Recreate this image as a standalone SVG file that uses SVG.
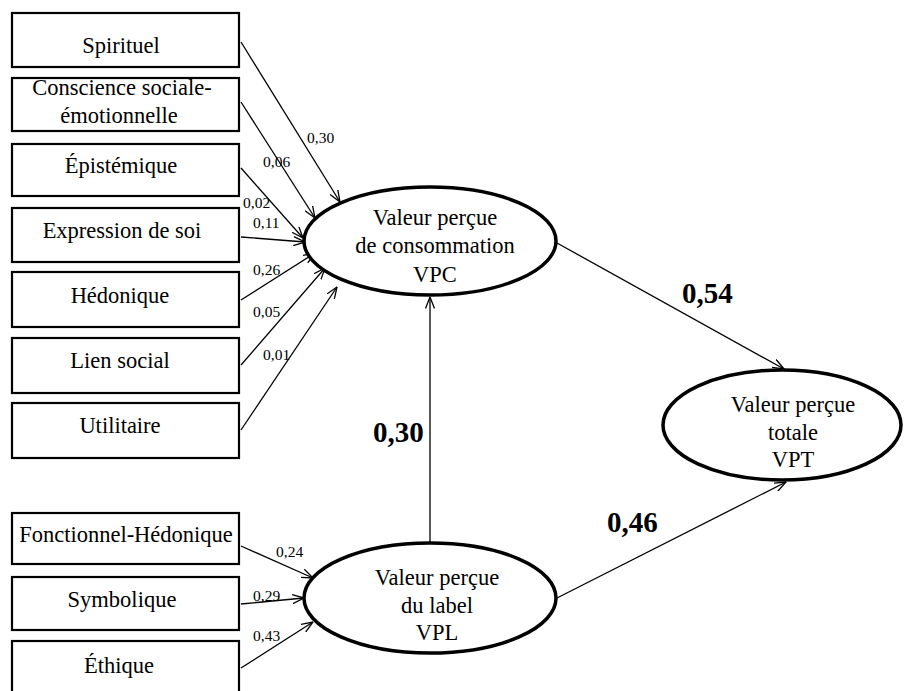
<svg xmlns="http://www.w3.org/2000/svg" width="904" height="691" viewBox="0 0 904 691" font-family="Liberation Serif, DejaVu Serif, serif">
  <style>
    .box { fill: #fff; stroke: #000; stroke-width: 2.2; }
    .ell { fill: #fff; stroke: #000; stroke-width: 3.5; }
    text { font-family: 'Liberation Serif', 'DejaVu Serif', serif; fill: #000; }
    .lbl { font-size: 22.5px; text-anchor: middle; }
    .coef { font-size: 15.5px; }
    .big { font-size: 29px; font-weight: bold; }
    .edge { fill: none; stroke: #000; stroke-width: 1.3; marker-end: url(#arr); }
  </style>
  <defs>
    <marker id="arr" viewBox="0 0 12 10" refX="11.5" refY="5" markerWidth="12" markerHeight="10" markerUnits="userSpaceOnUse" orient="auto">
      <path d="M0,0.5 L11.5,5 L0,9.5" fill="none" stroke="#000" stroke-width="1.3"/>
    </marker>
  </defs>
  <rect width="904" height="691" fill="#fff"/>

  <!-- path connectors -->
  <g id="connectors">
    <line class="edge" x1="241" y1="42" x2="340" y2="202"/>
    <line class="edge" x1="241" y1="102" x2="315" y2="218"/>
    <line class="edge" x1="241" y1="168" x2="303" y2="238"/>
    <line class="edge" x1="241" y1="237" x2="305" y2="242"/>
    <line class="edge" x1="241" y1="300" x2="315" y2="253"/>
    <line class="edge" x1="241" y1="365" x2="325" y2="268"/>
    <line class="edge" x1="241" y1="430" x2="337" y2="287"/>
    <line class="edge" x1="241" y1="546" x2="313" y2="578"/>
    <line class="edge" x1="241" y1="604" x2="304" y2="598"/>
    <line class="edge" x1="241" y1="668" x2="313" y2="622"/>
    <line class="edge" x1="430" y1="543" x2="430" y2="297"/>
    <line class="edge" x1="557" y1="243" x2="784" y2="369"/>
    <line class="edge" x1="557" y1="598" x2="786" y2="482"/>
  </g>

  <!-- coefficients -->
  <g id="coefficients">
    <text class="coef" x="307" y="143">0,30</text>
    <text class="coef" x="263" y="167">0,06</text>
    <text class="coef" x="243" y="208">0,02</text>
    <text class="coef" x="253" y="228">0,11</text>
    <text class="coef" x="253" y="275">0,26</text>
    <text class="coef" x="253" y="317">0,05</text>
    <text class="coef" x="263" y="360">0,01</text>
    <text class="coef" x="276" y="557">0,24</text>
    <text class="coef" x="253" y="601">0,29</text>
    <text class="coef" x="253" y="641">0,43</text>
    <text class="big" x="373" y="442">0,30</text>
    <text class="big" x="682" y="303">0,54</text>
    <text class="big" x="607" y="532">0,46</text>
  </g>

  <!-- consumption value dimensions -->
  <g id="spirituel"><rect class="box" x="12" y="13" width="227" height="54"/><text class="lbl" x="121" y="53">Spirituel</text></g>
  <g id="conscience"><rect class="box" x="12" y="78" width="227" height="53"/><text class="lbl" x="122" y="95">Conscience sociale-</text><text class="lbl" x="119" y="123">émotionnelle</text></g>
  <g id="epistemique"><rect class="box" x="12" y="144" width="227" height="52"/><text class="lbl" x="121" y="173">Épistémique</text></g>
  <g id="expression"><rect class="box" x="12" y="208" width="227" height="54"/><text class="lbl" x="122" y="238">Expression de soi</text></g>
  <g id="hedonique"><rect class="box" x="12" y="272" width="227" height="55"/><text class="lbl" x="120" y="303">Hédonique</text></g>
  <g id="lien-social"><rect class="box" x="12" y="338" width="227" height="55"/><text class="lbl" x="120" y="368">Lien social</text></g>
  <g id="utilitaire"><rect class="box" x="12" y="403" width="227" height="55"/><text class="lbl" x="120" y="433">Utilitaire</text></g>

  <!-- label value dimensions -->
  <g id="fonctionnel"><rect class="box" x="12" y="513" width="227" height="51"/><text class="lbl" x="126" y="542">Fonctionnel-Hédonique</text></g>
  <g id="symbolique"><rect class="box" x="12" y="577" width="227" height="53"/><text class="lbl" x="122" y="607">Symbolique</text></g>
  <g id="ethique"><rect class="box" x="12" y="641" width="227" height="70"/><text class="lbl" x="119" y="673">Éthique</text></g>

  <!-- latent constructs -->
  <g id="vpc"><ellipse class="ell" cx="430" cy="241" rx="126" ry="54"/><text class="lbl" x="435" y="225">Valeur perçue</text><text class="lbl" x="435" y="253">de consommation</text><text class="lbl" x="435" y="282">VPC</text></g>
  <g id="vpl"><ellipse class="ell" cx="430" cy="598" rx="126" ry="55"/><text class="lbl" x="437" y="585">Valeur perçue</text><text class="lbl" x="437" y="613">du label</text><text class="lbl" x="437" y="640">VPL</text></g>
  <g id="vpt"><ellipse class="ell" cx="782" cy="425" rx="119" ry="55"/><text class="lbl" x="793" y="412">Valeur perçue</text><text class="lbl" x="793" y="440">totale</text><text class="lbl" x="793" y="467">VPT</text></g>
</svg>
